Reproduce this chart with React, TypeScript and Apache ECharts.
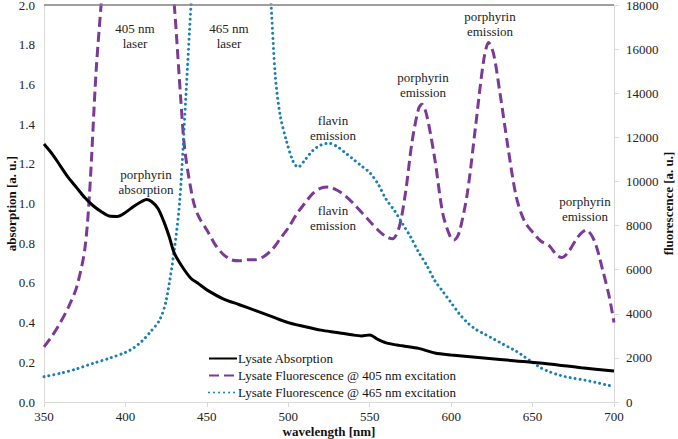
import React, { useEffect, useRef } from "react";
import * as echarts from "echarts";

// ---------------- data ----------------
const absWavelengths = [350, 355, 360, 365, 370, 375, 380, 385, 390, 395, 400, 405, 410, 413, 416, 420, 424, 427, 430, 435, 440, 445, 450, 460, 470, 480, 490, 500, 510, 520, 530, 540, 545, 550, 555, 560, 570, 580, 590, 600, 620, 640, 660, 680, 700];
const absValues = [1.30, 1.25, 1.19, 1.13, 1.08, 1.03, 0.99, 0.96, 0.937, 0.935, 0.955, 0.985, 1.01, 1.02, 1.01, 0.975, 0.9, 0.83, 0.75, 0.68, 0.625, 0.595, 0.565, 0.52, 0.49, 0.46, 0.43, 0.40, 0.38, 0.362, 0.35, 0.337, 0.333, 0.338, 0.315, 0.298, 0.283, 0.27, 0.247, 0.237, 0.222, 0.207, 0.192, 0.173, 0.156];

const fl405Wavelengths = [350, 355, 360, 365, 370, 375, 378, 382, 386, 395, 405, 415, 425, 430, 434, 436.5, 441.5, 445, 450, 455, 460, 465, 470, 475, 480, 485, 490, 495, 500, 505, 510, 515, 520, 525, 530, 535, 540, 545, 550, 555, 560, 564, 568, 572, 576, 580, 582, 585, 590, 595, 600, 602, 605, 610, 615, 620, 623, 626, 630, 635, 640, 645, 650, 655, 660, 665, 668, 672, 678, 683, 688, 693, 697, 700];
const fl405Values = [2500, 3000, 3600, 4300, 5200, 6900, 9500, 15000, 19000, 30000, 45000, 32000, 22000, 18000, 13700, 11400, 9160, 8400, 7800, 7150, 6700, 6450, 6400, 6450, 6450, 6600, 6900, 7400, 7900, 8500, 9000, 9450, 9700, 9750, 9600, 9350, 9000, 8600, 8200, 7800, 7500, 7400, 7900, 9500, 11800, 13300, 13500, 13000, 11000, 8500, 7400, 7350, 7700, 9500, 12500, 15500, 16300, 15800, 14000, 11500, 9300, 8200, 7700, 7300, 7100, 6650, 6550, 6800, 7500, 7800, 7300, 6000, 4800, 3600];

const fl465Wavelengths = [350, 360, 370, 380, 390, 400, 405, 410, 415, 421, 425, 430, 433.4, 437, 440.5, 445, 455, 465, 475, 485, 489, 492, 495, 499, 503, 506, 510, 515, 520, 525, 530, 535, 540, 545, 550, 555, 560, 565, 570, 575, 580, 585, 590, 595, 600, 605, 610, 615, 620, 625, 630, 635, 640, 645, 650, 655, 660, 665, 670, 675, 680, 685, 690, 695, 700];
const fl465Values = [1150, 1300, 1500, 1750, 1980, 2250, 2450, 2750, 3150, 3720, 4600, 6900, 9160, 13690, 18240, 23000, 32000, 40000, 32000, 22000, 18500, 14800, 13000, 11800, 10900, 10650, 10950, 11400, 11650, 11730, 11580, 11300, 11000, 10700, 10400, 9900, 9200, 8700, 8100, 7500, 6800, 6200, 5500, 5000, 4500, 4000, 3600, 3300, 3100, 2900, 2700, 2500, 2300, 2050, 1800, 1550, 1380, 1250, 1150, 1080, 1020, 950, 870, 780, 700];

const seriesNames = [
  "Lysate Absorption",
  "Lysate Fluorescence @ 405 nm excitation",
  "Lysate Fluorescence @ 465 nm excitation",
];

const annotations = [
  { text: "405 nm\nlaser", x: 135, y: 36 },
  { text: "465 nm\nlaser", x: 229, y: 36 },
  { text: "porphyrin\nabsorption", x: 146, y: 182 },
  { text: "flavin\nemission", x: 333, y: 127.5 },
  { text: "flavin\nemission", x: 333, y: 217.5 },
  { text: "porphyrin\nemission", x: 423, y: 85 },
  { text: "porphyrin\nemission", x: 490, y: 23.5 },
  { text: "porphyrin\nemission", x: 585, y: 208.5 },
];

const FONT = "'Liberation Serif', 'Times New Roman', serif";
const pairs = (xs: number[], ys: number[]) => xs.map((x, i) => [x, ys[i]]);

export default function App() {
  const ref = useRef<HTMLDivElement>(null);
  useEffect(() => {
    if (!ref.current) return;
    const chart = echarts.init(ref.current, null, { renderer: "svg" });
    const axisLabel = { color: "#222", fontFamily: FONT, fontSize: 13 };
    const nameStyle = { fontFamily: FONT, fontSize: 13, fontWeight: "bold", color: "#111" };
    chart.setOption({
      animation: false,
      backgroundColor: "#fff",
      textStyle: { fontFamily: FONT },
      grid: { left: 44, right: 64, top: 5, bottom: 37, containLabel: false, outerBoundsMode: "none" },
      legend: {
        orient: "vertical",
        left: 208,
        top: 352,
        itemWidth: 28,
        itemHeight: 12,
        itemGap: 4,
        padding: 0,
        itemStyle: { opacity: 0 },
        textStyle: { color: "#111", fontFamily: FONT, fontSize: 13, padding: [0, 0, 0, -4] },
        data: seriesNames,
      },
      xAxis: {
        type: "value",
        min: 350,
        max: 700,
        interval: 50,
        name: "wavelength [nm]",
        nameLocation: "middle",
        nameGap: 23,
        nameMoveOverlap: false,
        nameTextStyle: nameStyle,
        axisLine: { show: true, lineStyle: { color: "#D9D9D9", width: 1 } },
        axisTick: { show: true, inside: false, length: 5, lineStyle: { color: "#D9D9D9" } },
        axisLabel: { ...axisLabel, margin: 8 },
        splitLine: { show: false },
      },
      yAxis: [
        {
          type: "value",
          min: 0,
          max: 2.0,
          interval: 0.2,
          position: "left",
          name: "absorption [a. u.]",
          nameLocation: "middle",
          nameRotate: 90,
          nameGap: 26,
          nameMoveOverlap: false,
          nameTextStyle: nameStyle,
          axisLine: { show: true, lineStyle: { color: "#D9D9D9", width: 1 } },
          axisTick: { show: false },
          axisLabel: { ...axisLabel, margin: 9, formatter: (v: number) => v.toFixed(1) },
          splitLine: { show: false },
        },
        {
          type: "value",
          min: 0,
          max: 18000,
          interval: 2000,
          position: "right",
          name: "fluorescence [a. u.]",
          nameLocation: "middle",
          nameRotate: 90,
          nameGap: 48,
          nameMoveOverlap: false,
          nameTextStyle: nameStyle,
          axisLine: { show: true, lineStyle: { color: "#D9D9D9", width: 1 } },
          axisTick: { show: true, inside: false, length: 5, lineStyle: { color: "#D9D9D9" } },
          axisLabel: { ...axisLabel, margin: 12, formatter: (v: number) => String(v) },
          splitLine: { show: false },
        },
      ],
      series: [
        {
          name: seriesNames[0],
          type: "line",
          yAxisIndex: 0,
          data: pairs(absWavelengths, absValues),
          smooth: 0.3,
          symbol: "none",
          lineStyle: { color: "#000", width: 3 },
          itemStyle: { color: "#000" },
          markLine: {
            silent: true,
            symbol: "none",
            label: { show: false },
            lineStyle: { color: "#7F7F7F", width: 1.5, type: "solid" },
            data: [{ yAxis: 2.0 }],
          },
          z: 3,
        },
        {
          name: seriesNames[1],
          type: "line",
          yAxisIndex: 1,
          data: pairs(fl405Wavelengths, fl405Values),
          smooth: 0.3,
          symbol: "none",
          clip: true,
          lineStyle: { color: "#7B3A96", width: 3, type: [10, 5] },
          itemStyle: { color: "#7B3A96" },
          z: 2,
        },
        {
          name: seriesNames[2],
          type: "line",
          yAxisIndex: 1,
          data: pairs(fl465Wavelengths, fl465Values),
          smooth: 0.3,
          symbol: "none",
          clip: true,
          lineStyle: { color: "#1B7FB0", width: 3, type: [0.01, 5], cap: "round" },
          itemStyle: { color: "#1B7FB0" },
          z: 2,
        },
      ],
      graphic: annotations.map((a) => ({
        type: "text",
        x: a.x,
        y: a.y,
        silent: true,
        z: 10,
        style: {
          text: a.text,
          fill: "#222",
          font: `13px ${FONT}`,
          lineHeight: 15,
          align: "center",
          verticalAlign: "middle",
        },
      })),
    });
    return () => chart.dispose();
  }, []);
  return (
    <div
      ref={ref}
      style={{ position: "fixed", left: 0, top: 0, width: 678, height: 439, background: "#fff" }}
    />
  );
}
